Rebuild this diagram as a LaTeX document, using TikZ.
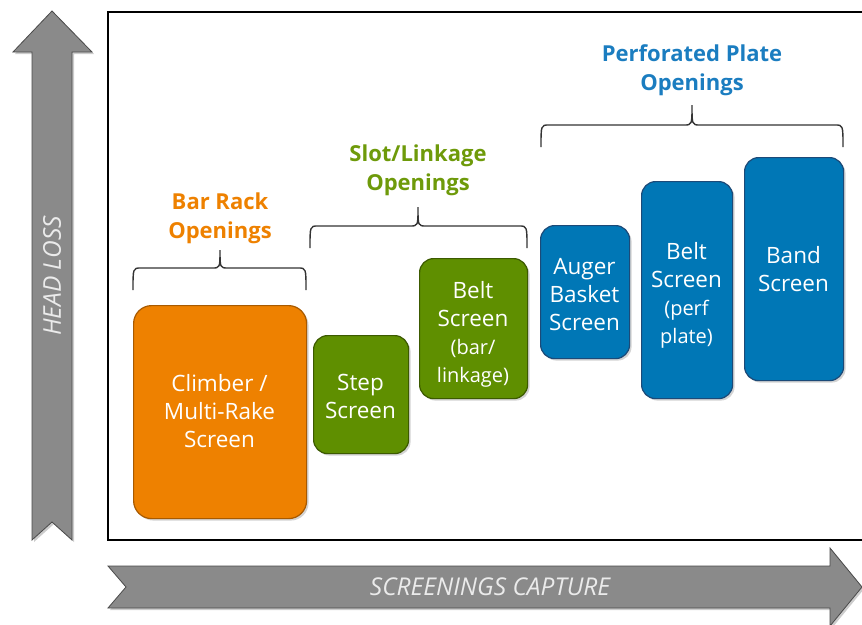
\documentclass[tikz,border=0pt]{standalone}
\usepackage{fontspec}
\setmainfont{Open Sans}
\usetikzlibrary{shadows}
\definecolor{orng}{HTML}{EE8100}
\definecolor{orngd}{HTML}{A85A00}
\definecolor{grn}{HTML}{5F8F00}
\definecolor{grnd}{HTML}{3C5A00}
\definecolor{blu}{HTML}{0077B6}
\definecolor{blud}{HTML}{1C4A78}
\definecolor{lgrn}{HTML}{6E9A0A}
\definecolor{lblu}{HTML}{1B7DC0}
\definecolor{arr}{HTML}{8A8A8A}
\definecolor{arrd}{HTML}{4A4A4A}
\newcommand{\smalltxt}[1]{{\fontsize{20}{27}\selectfont #1}}
\tikzset{
  screenbox/.style={rounded corners=18pt, line width=1.2pt, anchor=north west,
    inner sep=0pt, align=center, text=white, font=\fontsize{22.5}{28}\selectfont,
    drop shadow={opacity=0.35, shadow xshift=2pt, shadow yshift=-2pt}},
  boxtext/.style={text=white, font=\fontsize{22.5}{28}\selectfont, align=center, anchor=north, inner sep=0pt},
  grouplabel/.style={align=center, font=\bfseries\fontsize{22}{29}\selectfont},
  bracepath/.style={line width=1.4pt, draw=black!80},
  bigarrow/.style={fill=arr, draw=arrd, line width=0.8pt,
    drop shadow={opacity=0.4, shadow xshift=2pt, shadow yshift=-2pt}},
  arrowtext/.style={text=white!92!black, font=\itshape\fontsize{24.5}{28}\selectfont}
}
\begin{document}
\begin{tikzpicture}[x=1pt,y=-1pt]
\useasboundingbox (0,0) rectangle (862,624);
% frame
\draw[line width=2pt, black] (870,12) -- (108,12) -- (108,540) -- (870,540);
% vertical arrow
\draw[bigarrow] (52,11) -- (92,52) -- (72,52) -- (72,540) -- (52,522) -- (32,540) -- (32,52) -- (13,52) -- cycle;
\node[arrowtext, rotate=90] (headloss) at (52,276) {HEAD LOSS};
% horizontal arrow
\draw[bigarrow] (108,566) -- (830,566) -- (830,548) -- (862,587) -- (830,626) -- (830,608) -- (108,608) -- (126,587) -- cycle;
\node[arrowtext] (capture) at (490,587) {SCREENINGS CAPTURE};
% boxes
\node[screenbox, fill=orng, draw=orngd, minimum width=173pt, minimum height=213pt] (climber) at (133,305) {};
\node[boxtext] (climbertext) at (219.5,374) {Climber /\\Multi-Rake\\Screen};
\node[screenbox, fill=grn, draw=grnd, minimum width=95pt, minimum height=118pt, rounded corners=14pt] (step) at (313,335) {};
\node[boxtext] (steptext) at (360.5,374) {Step\\Screen};
\node[screenbox, fill=grn, draw=grnd, minimum width=108pt, minimum height=140pt, rounded corners=14pt] (beltbar) at (419,258) {};
\node[boxtext] (beltbartext) at (473,281) {Belt\\Screen\\\smalltxt{(bar/}\\\smalltxt{linkage)}};
\node[screenbox, fill=blu, draw=blud, minimum width=89pt, minimum height=133pt, rounded corners=14pt] (auger) at (540,225) {};
\node[boxtext] (augertext) at (584.5,258) {Auger\\Basket\\Screen};
\node[screenbox, fill=blu, draw=blud, minimum width=91pt, minimum height=217pt, rounded corners=14pt] (beltperf) at (641,181) {};
\node[boxtext] (beltperftext) at (686.5,242) {Belt\\Screen\\\smalltxt{(perf}\\\smalltxt{plate)}};
\node[screenbox, fill=blu, draw=blud, minimum width=99pt, minimum height=223pt, rounded corners=14pt] (band) at (744,157) {};
\node[boxtext] (bandtext) at (793.5,246) {Band\\Screen};
% braces
\draw[bracepath] (133,290) .. controls (133,268) .. (141,268) -- (212,268) .. controls (220,268) .. (220,250) .. controls (220,268) .. (228,268) -- (298,268) .. controls (306,268) .. (306,290);
\draw[bracepath] (310,248) .. controls (310,226) .. (318,226) -- (410,226) .. controls (418,226) .. (418,207) .. controls (418,226) .. (426,226) -- (519,226) .. controls (527,226) .. (527,248);
\draw[bracepath] (541,147) .. controls (541,125) .. (549,125) -- (684,125) .. controls (692,125) .. (692,105) .. controls (692,125) .. (700,125) -- (835,125) .. controls (843,125) .. (843,147);
% labels
\node[grouplabel, text=orng] (barrack) at (220,218) {Bar Rack\\Openings};
\node[grouplabel, text=lgrn] (slot) at (418,170) {Slot/Linkage\\Openings};
\node[grouplabel, text=lblu] (perf) at (692,70) {Perforated Plate\\Openings};
\end{tikzpicture}
\end{document}
